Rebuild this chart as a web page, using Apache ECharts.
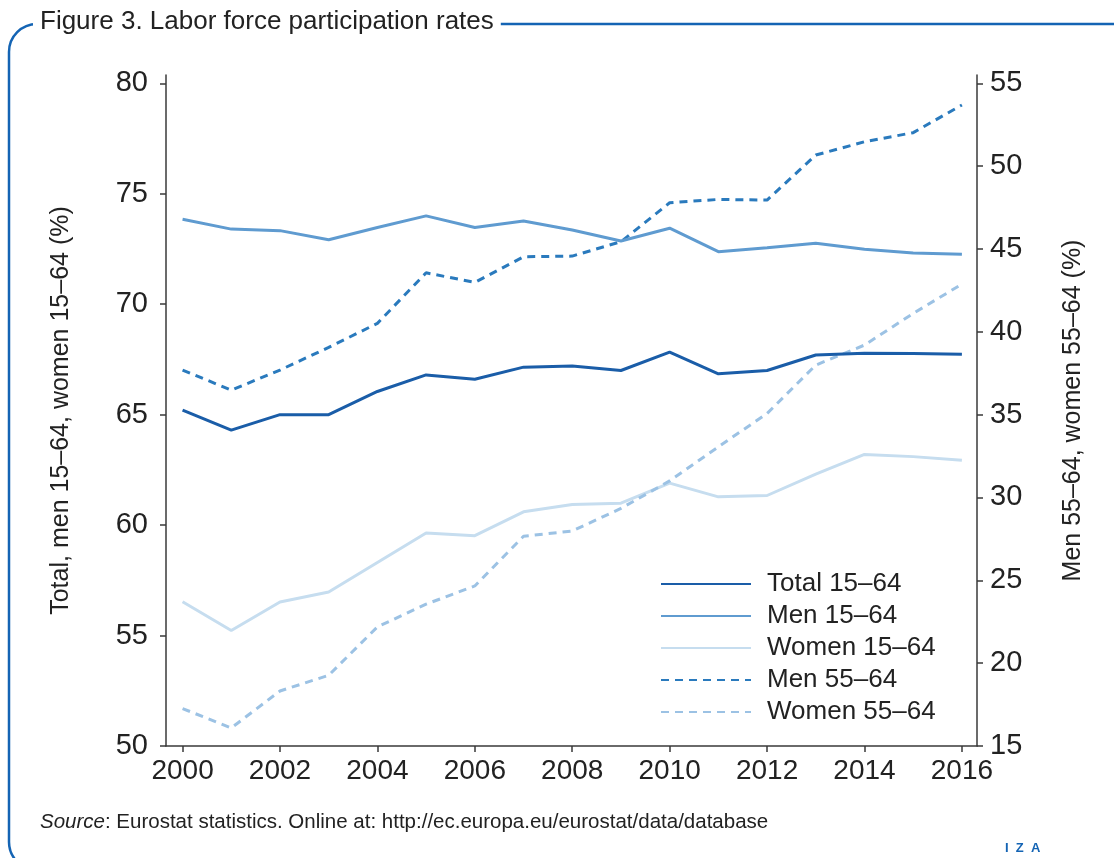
<!DOCTYPE html>
<html>
<head>
<meta charset="utf-8">
<title>Labor force participation rates</title>
<script src="https://cdn.jsdelivr.net/npm/echarts@6/dist/echarts.min.js"></script>
<style>
  html, body { margin: 0; padding: 0; background: #fff; }
  #chart { width: 1114px; height: 858px; }
</style>
</head>
<body>
<div id="chart"></div>
<script>
// data
var years = [2000, 2001, 2002, 2003, 2004, 2005, 2006, 2007, 2008, 2009, 2010, 2011, 2012, 2013, 2014, 2015, 2016];
var total1564 = [65.2, 64.3, 65.0, 65.0, 66.05, 66.8, 66.6, 67.15, 67.2, 67.0, 67.83, 66.85, 67.0, 67.7, 67.78, 67.77, 67.74];
var men1564 = [73.85, 73.4, 73.33, 72.92, 73.47, 74.0, 73.47, 73.77, 73.36, 72.86, 73.44, 72.38, 72.56, 72.76, 72.49, 72.32, 72.26];
var women1564 = [56.53, 55.23, 56.52, 56.97, 58.31, 59.64, 59.52, 60.6, 60.93, 60.99, 61.9, 61.28, 61.34, 62.31, 63.2, 63.1, 62.94];
// right axis
var men5564 = [37.69, 36.48, 37.69, 39.06, 40.51, 43.56, 42.98, 44.53, 44.57, 45.44, 47.79, 47.99, 47.95, 50.67, 51.47, 52.02, 53.69];
var women5564 = [17.26, 16.09, 18.32, 19.27, 22.19, 23.56, 24.66, 27.66, 27.98, 29.34, 31.0, 33.06, 35.07, 37.99, 39.2, 41.11, 42.88];

var xTicks = [2000, 2002, 2004, 2006, 2008, 2010, 2012, 2014, 2016];
var leftTicks = [50, 55, 60, 65, 70, 75, 80];
var rightTicks = [15, 20, 25, 30, 35, 40, 45, 50, 55];

function pairs(vals) {
    return years.map(function (y, i) { return [y, vals[i]]; });
}

var font = '"Liberation Sans", Arial, sans-serif';
var axisColor = '#3a3a3a';
var textColor = '#222';

var mychart = echarts.init(document.getElementById('chart'));

mychart.setOption({
    animation: false,
    textStyle: { fontFamily: font },
    title: {
        text: 'Figure 3. Labor force participation rates',
        left: 33,
        top: 7,
        padding: [2, 7, 2, 7],
        backgroundColor: '#fff',
        textStyle: { fontSize: 26, fontWeight: 'normal', color: textColor, fontFamily: font }
    },
    graphic: [
        {
            type: 'rect',
            z: -1,
            shape: { x: 9, y: 24, width: 1200, height: 846, r: [28, 0, 0, 28] },
            style: { fill: 'none', stroke: '#1464b4', lineWidth: 2.5 }
        },
        {
            type: 'text',
            left: 40,
            top: 812,
            style: {
                text: '{i|Source}: Eurostat statistics. Online at: http://ec.europa.eu/eurostat/data/database',
                font: '20.5px ' + font,
                fill: textColor,
                rich: { i: { fontStyle: 'italic', fontSize: 20.5, fontFamily: font } }
            }
        },
        {
            type: 'text',
            left: 1005,
            top: 842,
            style: {
                text: 'I  Z  A',
                font: 'bold 13px ' + font,
                fill: '#1464b4'
            }
        }
    ],
    legend: {
        orient: 'vertical',
        left: 655,
        top: 566,
        itemWidth: 90,
        itemHeight: 14,
        itemGap: 6,
        itemStyle: { opacity: 0 },
        textStyle: { fontSize: 26, color: textColor, lineHeight: 26, padding: [0, 0, 0, 11] },
        data: ['Total 15–64', 'Men 15–64', 'Women 15–64', 'Men 55–64', 'Women 55–64']
    },
    grid: {
        left: 166,
        right: 137,
        top: 75,
        bottom: 112
    },
    xAxis: {
        type: 'value',
        min: 1999.66,
        max: 2016.31,
        splitLine: { show: false },
        axisLine: { lineStyle: { color: axisColor, width: 1.5 } },
        axisTick: { customValues: xTicks, length: 6, lineStyle: { color: axisColor, width: 1.5 } },
        axisLabel: {
            customValues: xTicks,
            fontSize: 28,
            color: textColor,
            margin: 11,
            formatter: function (v) { return String(v); }
        }
    },
    yAxis: [
        {
            type: 'value',
            min: 50,
            max: 80.376,
            name: 'Total, men 15–64, women 15–64 (%)',
            nameLocation: 'middle',
            nameGap: 92,
            nameTextStyle: { fontSize: 25, color: textColor },
            splitLine: { show: false },
            axisLine: { show: true, lineStyle: { color: axisColor, width: 1.5 } },
            axisTick: { show: true, customValues: leftTicks, length: 6, lineStyle: { color: axisColor, width: 1.5 } },
            axisLabel: { customValues: leftTicks, fontSize: 29, color: textColor, margin: 18 }
        },
        {
            type: 'value',
            min: 15,
            max: 55.5,
            position: 'right',
            name: 'Men 55–64, women 55–64 (%)',
            nameLocation: 'middle',
            nameGap: 84,
            nameRotate: 90,
            nameTextStyle: { fontSize: 25, color: textColor },
            splitLine: { show: false },
            axisLine: { show: true, lineStyle: { color: axisColor, width: 1.5 } },
            axisTick: { show: true, customValues: rightTicks, length: 6, lineStyle: { color: axisColor, width: 1.5 } },
            axisLabel: { customValues: rightTicks, fontSize: 29, color: textColor, margin: 13 }
        }
    ],
    series: [
        {
            name: 'Total 15–64',
            type: 'line',
            yAxisIndex: 0,
            symbol: 'none',
            z: 5,
            lineStyle: { color: '#1a5da8', width: 3 },
            itemStyle: { color: '#1a5da8' },
            data: pairs(total1564)
        },
        {
            name: 'Men 15–64',
            type: 'line',
            yAxisIndex: 0,
            symbol: 'none',
            z: 4,
            lineStyle: { color: '#5f9bd0', width: 3 },
            itemStyle: { color: '#5f9bd0' },
            data: pairs(men1564)
        },
        {
            name: 'Women 15–64',
            type: 'line',
            yAxisIndex: 0,
            symbol: 'none',
            z: 2,
            lineStyle: { color: '#c6ddef', width: 3 },
            itemStyle: { color: '#c6ddef' },
            data: pairs(women1564)
        },
        {
            name: 'Men 55–64',
            type: 'line',
            yAxisIndex: 1,
            symbol: 'none',
            z: 3,
            lineStyle: { color: '#2a7abd', width: 3, type: [8, 6] },
            itemStyle: { color: '#2a7abd' },
            data: pairs(men5564)
        },
        {
            name: 'Women 55–64',
            type: 'line',
            yAxisIndex: 1,
            symbol: 'none',
            z: 3,
            lineStyle: { color: '#9cc2e4', width: 3, type: [8, 6] },
            itemStyle: { color: '#9cc2e4' },
            data: pairs(women5564)
        }
    ]
});
</script>
</body>
</html>
